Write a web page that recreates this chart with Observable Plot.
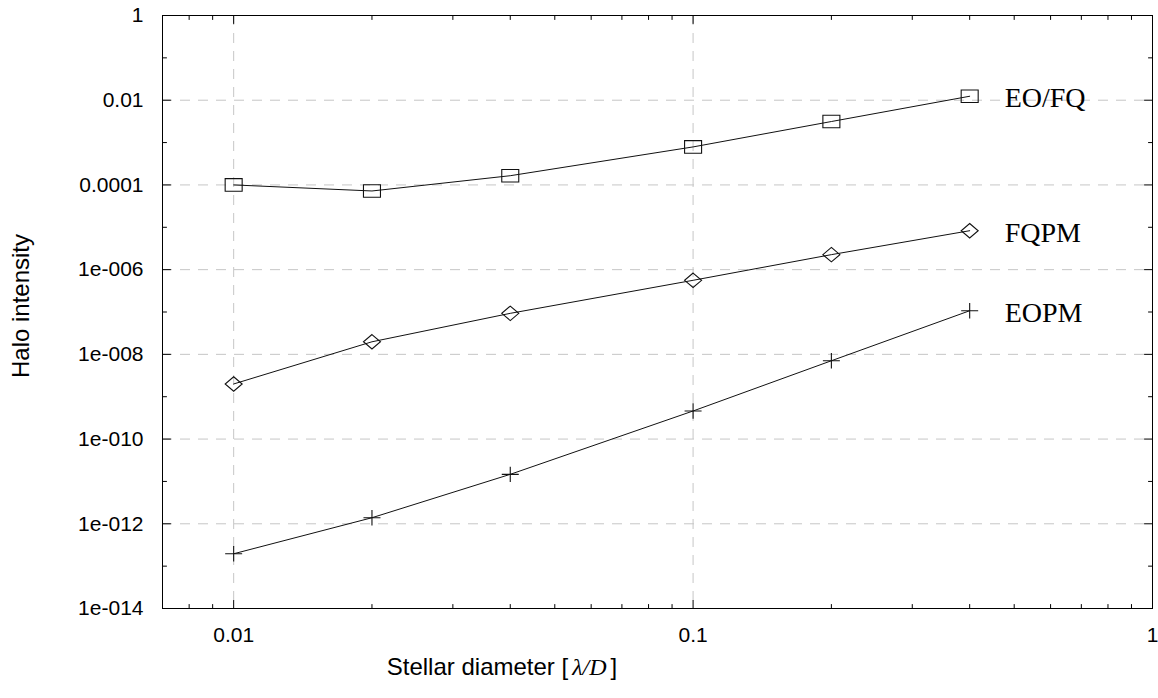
<!DOCTYPE html>
<html><head><meta charset="utf-8">
<script src="https://cdn.jsdelivr.net/npm/d3@7"></script>
<script src="https://cdn.jsdelivr.net/npm/@observablehq/plot@0.6"></script>
<style>
html,body{margin:0;padding:0;background:#fff;}
#chart svg{display:block;}
</style>
</head><body><div id="chart"></div>
<script>
// ---- data ----
const diameters = [0.01, 0.02, 0.04, 0.1, 0.2, 0.4];
const eofq = [1.0e-4, 7.2e-5, 1.65e-4, 7.9e-4, 3.14e-3, 1.24e-2];
const fqpm = [2.0e-9, 1.98e-8, 9.3e-8, 5.6e-7, 2.26e-6, 8.3e-6];
const eopm = [1.96e-13, 1.39e-12, 1.47e-11, 4.6e-10, 7.06e-9, 1.07e-7];
const seriesNames = ["EO/FQ", "FQPM", "EOPM"];

const yMajorTicks = [1, 1e-2, 1e-4, 1e-6, 1e-8, 1e-10, 1e-12, 1e-14];
const yTickLabels = ["1", "0.01", "0.0001", "1e-006", "1e-008", "1e-010", "1e-012", "1e-014"];
const yMinorTicks = [1e-1, 1e-3, 1e-5, 1e-7, 1e-9, 1e-11, 1e-13];
const yGrid = [1e-2, 1e-4, 1e-6, 1e-8, 1e-10, 1e-12];

const xMajorTicks = [0.01, 0.1, 1];
const xTickLabels = ["0.01", "0.1", "1"];
const xMinorTicks = [0.008, 0.009, 0.02, 0.03, 0.04, 0.05, 0.06, 0.07, 0.08, 0.09,
                     0.2, 0.3, 0.4, 0.5, 0.6, 0.7, 0.8, 0.9];
const xGrid = [0.01, 0.1];

const xLabel = "Stellar diameter [";
const xLabelMath = "λ/D";
const yLabel = "Halo intensity";

// ---- build table ----
const seriesValues = [eofq, fqpm, eopm];
const rows = [];
seriesNames.forEach((name, k) => {
  diameters.forEach((d, i) => rows.push({series: name, x: d, y: seriesValues[k][i]}));
});
const lastRows = seriesNames.map((name, k) => ({
  series: name, x: diameters[diameters.length - 1], y: seriesValues[k][diameters.length - 1]
}));

// ---- custom marker shapes ----
const symRect = {draw(c, size) { const r = Math.sqrt(size / Math.PI); const w = r, h = r * 0.74;
  c.moveTo(-w, -h); c.lineTo(w, -h); c.lineTo(w, h); c.lineTo(-w, h); c.closePath(); }};
const symDiamond = {draw(c, size) { const r = Math.sqrt(size / Math.PI); const w = r, h = r * 0.85;
  c.moveTo(0, -h); c.lineTo(w, 0); c.lineTo(0, h); c.lineTo(-w, 0); c.closePath(); }};
const symPlus = {draw(c, size) { const r = Math.sqrt(size / Math.PI); const w = r, h = r * 0.9;
  c.moveTo(-w, 0); c.lineTo(w, 0); c.moveTo(0, -h); c.lineTo(0, h); }};
const symbols = [symRect, symDiamond, symPlus];

const tickShape = {draw(c, l) { c.moveTo(0, 0); c.lineTo(0, -l); }};
const tickMarks = (data, ch, anchor, rotate, len) =>
  Plot.vector(data, {[ch]: d => d, frameAnchor: anchor, rotate, length: len, anchor: "start",
    shape: tickShape, stroke: "black", strokeWidth: 1});

const sans = "'Liberation Sans', Arial, Helvetica, sans-serif";
const serif = "'Liberation Serif', 'Times New Roman', Times, serif";

const chart = Plot.plot({
  width: 1158,
  height: 698,
  marginTop: 15,
  marginLeft: 162,
  marginRight: 6,
  marginBottom: 90,
  style: {fontFamily: sans, fontSize: "21px", background: "white", color: "black"},
  x: {type: "log", domain: [0.007, 1]},
  y: {type: "log", domain: [1e-14, 1]},
  marks: [
    Plot.ruleY(yGrid, {stroke: "#c6c6c6", strokeDasharray: "10,8"}),
    Plot.ruleX(xGrid, {stroke: "#c6c6c6", strokeDasharray: "10,8"}),
    ...seriesNames.map((name, k) =>
      Plot.line(rows.filter(r => r.series === name), {x: "x", y: "y", stroke: "#111", strokeWidth: 1})),
    ...seriesNames.map((name, k) =>
      Plot.dot(rows.filter(r => r.series === name), {x: "x", y: "y", symbol: symbols[k], r: 8.5,
        fill: "none", stroke: "#111", strokeWidth: 1.1})),
    Plot.frame({stroke: "black", strokeWidth: 1}),
    tickMarks(yMajorTicks, "y", "left", 90, 8),
    tickMarks(yMinorTicks, "y", "left", 90, 4),
    tickMarks(yMajorTicks, "y", "right", -90, 8),
    tickMarks(yMinorTicks, "y", "right", -90, 4),
    tickMarks(xMajorTicks, "x", "bottom", 0, 8),
    tickMarks(xMinorTicks, "x", "bottom", 0, 4),
    tickMarks(xMajorTicks, "x", "top", 180, 8),
    tickMarks(xMinorTicks, "x", "top", 180, 4),
    Plot.axisY(yMajorTicks, {anchor: "left", tickSize: 0, tickPadding: 19, label: null,
      tickFormat: d => yTickLabels[yMajorTicks.indexOf(d)], fontSize: 21}),
    Plot.axisX(xMajorTicks, {anchor: "bottom", tickSize: 0, tickPadding: 19, label: null,
      tickFormat: d => xTickLabels[xMajorTicks.indexOf(d)], fontSize: 21}),
    Plot.text(lastRows, {x: "x", y: "y", text: "series", dx: 35, dy: 2, textAnchor: "start",
      fontSize: 28, fontFamily: serif, fill: "black"})
  ]
});

const svg = d3.select(chart);
// x-axis title with italic math part
const xt = svg.append("text")
  .attr("x", 502).attr("y", 667).attr("dy", "0.35em")
  .attr("font-family", sans).attr("font-size", 24).attr("fill", "black");
xt.append("tspan").text(xLabel);
xt.append("tspan").attr("dx", 4).attr("font-family", serif).attr("font-style", "italic").text(xLabelMath);
xt.append("tspan").attr("dx", 4).text("]");
// y-axis title
svg.append("text")
  .attr("transform", "translate(21,306) rotate(-90)")
  .attr("text-anchor", "middle").attr("dy", "0.35em")
  .attr("font-family", sans).attr("font-size", 24).attr("fill", "black")
  .text(yLabel);

document.getElementById("chart").appendChild(chart);
</script>
</body></html>
